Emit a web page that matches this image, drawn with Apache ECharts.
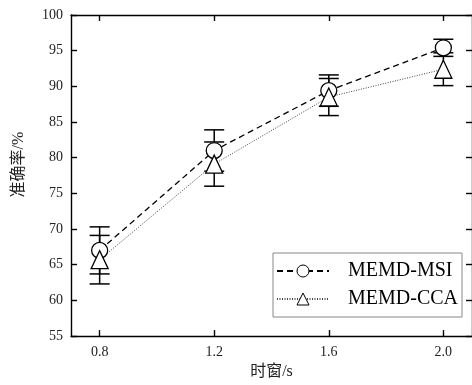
<!DOCTYPE html>
<html>
<head>
<meta charset="utf-8">
<script src="https://cdn.jsdelivr.net/npm/echarts@6/dist/echarts.min.js"></script>
<style>html,body{margin:0;padding:0;background:#fff}#c{width:472px;height:385px}</style>
</head>
<body>
<div id="c"></div>
<script>
const xs = [0.8, 1.2, 1.6, 2.0];
const xTicks = [0.8, 1.2, 1.6, 2.0];
const msi = [67.0, 81.0, 89.4, 95.4];
const msiErr = [3.3, 2.9, 2.2, 1.2];
const cca = [65.7, 79.1, 88.5, 92.4];
const ccaErr = [3.4, 3.1, 2.6, 2.3];
const seriesNames = ['MEMD-MSI', 'MEMD-CCA'];

const numFont = 'Liberation Serif';
const cjkFont = '"Liberation Serif", "Noto Sans CJK SC"';

function errRender(params, api) {
  const x = api.value(0), m = api.value(1), e = api.value(2);
  const t = api.coord([x, m + e]);
  const b = api.coord([x, m - e]);
  const hw = 10;
  const st = { stroke: '#000', lineWidth: 1.5 };
  return {
    type: 'group',
    children: [
      { type: 'line', shape: { x1: t[0], y1: t[1], x2: b[0], y2: b[1] }, style: st },
      { type: 'line', shape: { x1: t[0] - hw, y1: t[1], x2: t[0] + hw, y2: t[1] }, style: st },
      { type: 'line', shape: { x1: b[0] - hw, y1: b[1], x2: b[0] + hw, y2: b[1] }, style: st }
    ]
  };
}

const axisLineStyle = { lineStyle: { color: '#000', width: 1.4 } };
const tickStyle = { inside: true, length: 6, lineStyle: { color: '#000', width: 1.4 } };

const chart = echarts.init(document.getElementById('c'));
chart.setOption({
  backgroundColor: '#fff',
  animation: false,
  grid: { left: 71, top: 15, width: 406, bottom: 45, containLabel: false },
  legend: {
    data: seriesNames,
    orient: 'vertical',
    left: 273,
    top: 253,
    backgroundColor: '#fff',
    borderColor: '#888',
    borderWidth: 1,
    borderRadius: 0,
    padding: [8, 4, 8, 3],
    itemGap: 8,
    itemWidth: 52,
    itemHeight: 15,
    itemStyle: { borderWidth: 1 },
    textStyle: { fontFamily: numFont, fontSize: 20, color: '#000', padding: [0, 0, 0, 14] }
  },
  xAxis: [{
    type: 'value', min: 0.7, max: 2.1, position: 'bottom',
    axisLine: axisLineStyle,
    axisTick: Object.assign({ customValues: xTicks }, tickStyle),
    splitLine: { show: false },
    axisLabel: { customValues: xTicks, formatter: v => v.toFixed(1), fontFamily: numFont, fontSize: 14, color: '#222', margin: 9 },
    name: '时窗/s', nameLocation: 'middle', nameGap: 28,
    nameTextStyle: { fontFamily: cjkFont, fontSize: 16, color: '#222' }
  }, {
    type: 'value', min: 0.7, max: 2.1, position: 'top',
    axisLine: axisLineStyle,
    axisTick: Object.assign({ customValues: xTicks }, tickStyle),
    axisLabel: { show: false },
    splitLine: { show: false }
  }],
  yAxis: [{
    type: 'value', min: 55, max: 100, interval: 5, position: 'left',
    axisLine: axisLineStyle,
    axisTick: tickStyle,
    splitLine: { show: false },
    axisLabel: { fontFamily: numFont, fontSize: 14, color: '#222', margin: 8 },
    name: '准确率/%', nameLocation: 'middle', nameRotate: 90, nameGap: 44,
    nameTextStyle: { fontFamily: cjkFont, fontSize: 16, color: '#222', padding: [0, 0, 0, 22] }
  }, {
    type: 'value', min: 55, max: 100, interval: 5, position: 'right',
    axisLine: axisLineStyle,
    axisTick: tickStyle,
    axisLabel: { show: false },
    splitLine: { show: false }
  }],
  series: [
    {
      type: 'custom', name: 'err-msi', z: 1, renderItem: errRender,
      encode: { x: 0, y: 1 },
      data: xs.map((x, i) => [x, msi[i], msiErr[i]])
    },
    {
      type: 'custom', name: 'err-cca', z: 1, renderItem: errRender,
      encode: { x: 0, y: 1 },
      data: xs.map((x, i) => [x, cca[i], ccaErr[i]])
    },
    {
      type: 'line', name: seriesNames[0], z: 3,
      data: xs.map((x, i) => [x, msi[i]]),
      symbol: 'circle', symbolSize: 16,
      itemStyle: { color: '#fff', borderColor: '#000', borderWidth: 1.3 },
      lineStyle: { color: '#000', width: 1.3, type: [6, 4] }
    },
    {
      type: 'line', name: seriesNames[1], z: 3,
      data: xs.map((x, i) => [x, cca[i]]),
      symbol: 'triangle', symbolSize: [17, 18],
      itemStyle: { color: '#fff', borderColor: '#000', borderWidth: 1.3 },
      lineStyle: { color: '#444', width: 1, type: [1, 1.5] }
    }
  ]
});
</script>
</body>
</html>
